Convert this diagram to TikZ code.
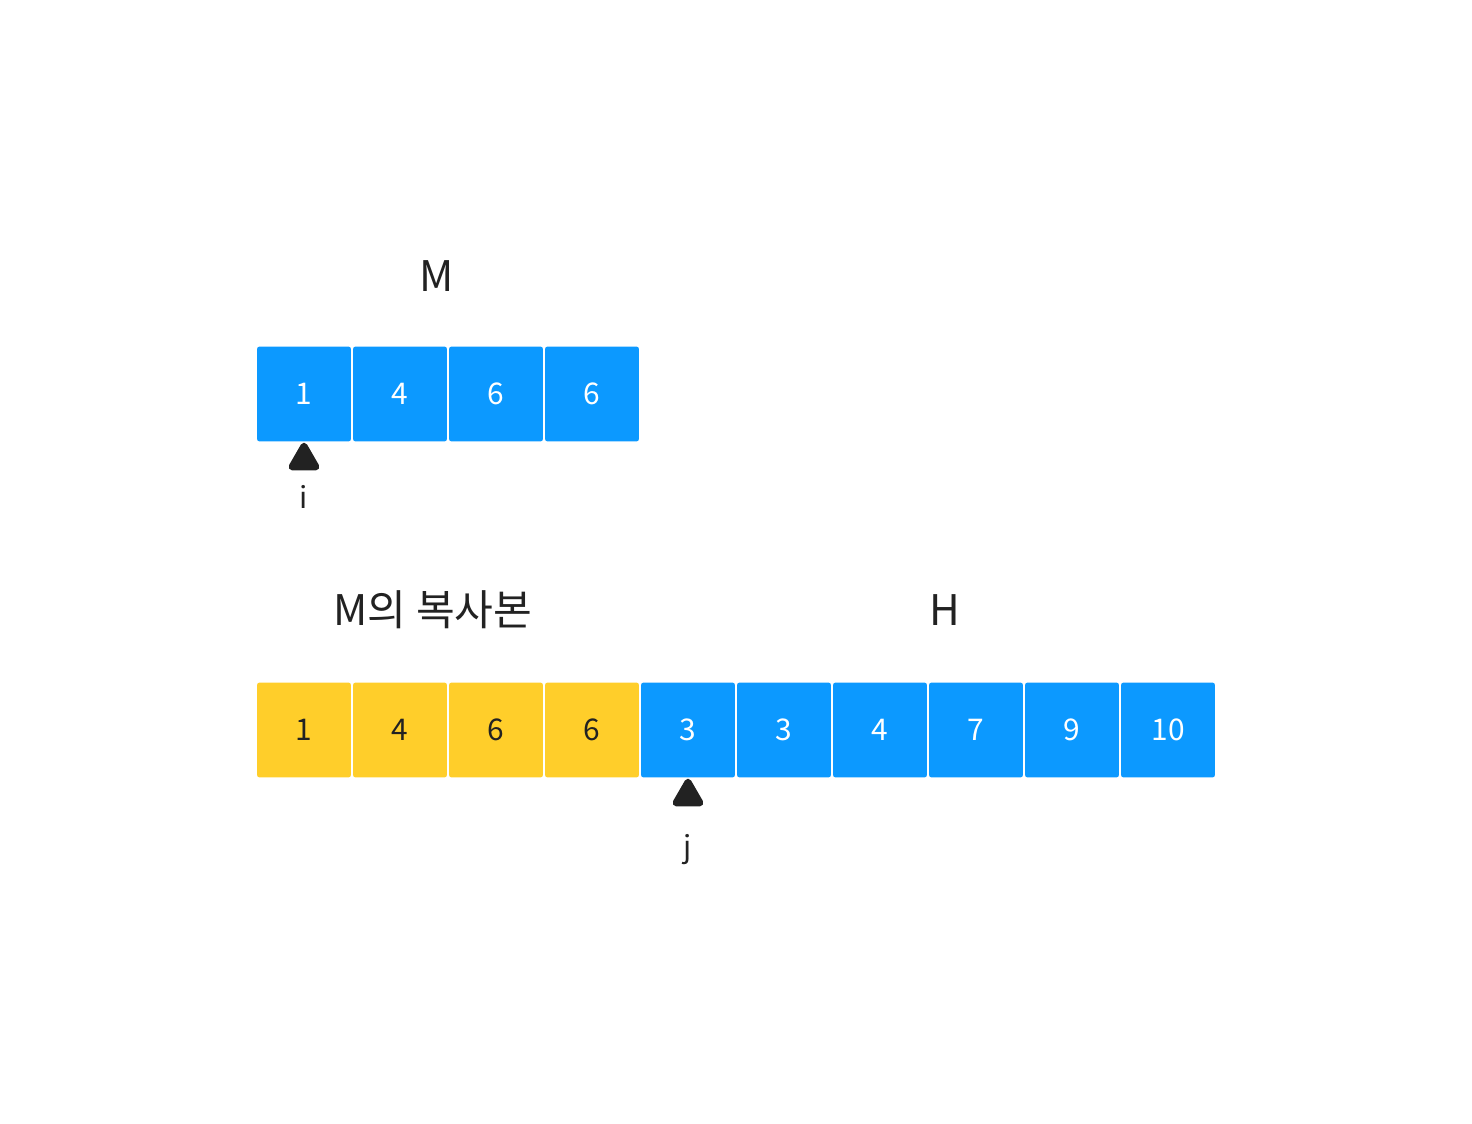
\documentclass[tikz,border=0pt]{standalone}
\usepackage{fontspec}
\setmainfont{Noto Sans CJK KR}
\usetikzlibrary{shapes.geometric,positioning}
\definecolor{cellblue}{HTML}{0C99FF}
\definecolor{cellyellow}{HTML}{FFCE2A}
\definecolor{ink}{HTML}{222222}
\begin{document}
\begin{tikzpicture}[x=0.02cm,y=-0.02cm,font=\fontsize{17}{20}\selectfont,
    cell/.style={minimum width=1.88cm,minimum height=1.9cm,inner sep=0pt,rounded corners=1.5pt},
    bluecell/.style={cell,fill=cellblue,text=white},
    yellowcell/.style={cell,fill=cellyellow,text=ink},
    pointer/.style={regular polygon,regular polygon sides=3,fill=ink,draw=ink,line join=round,line width=4pt,minimum size=0.55cm,inner sep=0pt},
    title/.style={font=\fontsize{24}{28}\selectfont,text=ink}]
    \useasboundingbox (0,0) rectangle (1472,1124);

    % top array M
    \node[title] (mTitle) at (437,276) {M};
    \foreach \v [count=\k from 0] in {1,4,6,6}
        \node[bluecell] (m\k) at (304+96*\k,394) {\v};
    \node[pointer] (iPtr) at (304,460) {};
    \node[text=ink] (iLbl) at (304,497) {i};

    % bottom array: copy of M and H
    \node[title] (copyTitle) at (433,610) {M의 복사본};
    \node[title] (hTitle) at (945,610) {H};
    \foreach \v [count=\k from 0] in {1,4,6,6}
        \node[yellowcell] (c\k) at (304+96*\k,730) {\v};
    \foreach \v [count=\k from 0] in {3,3,4,7,9,10}
        \node[bluecell] (h\k) at (688+96*\k,730) {\v};
    \node[pointer] (jPtr) at (688,796) {};
    \node[text=ink] (jLbl) at (688,850) {j};
\end{tikzpicture}
\end{document}
